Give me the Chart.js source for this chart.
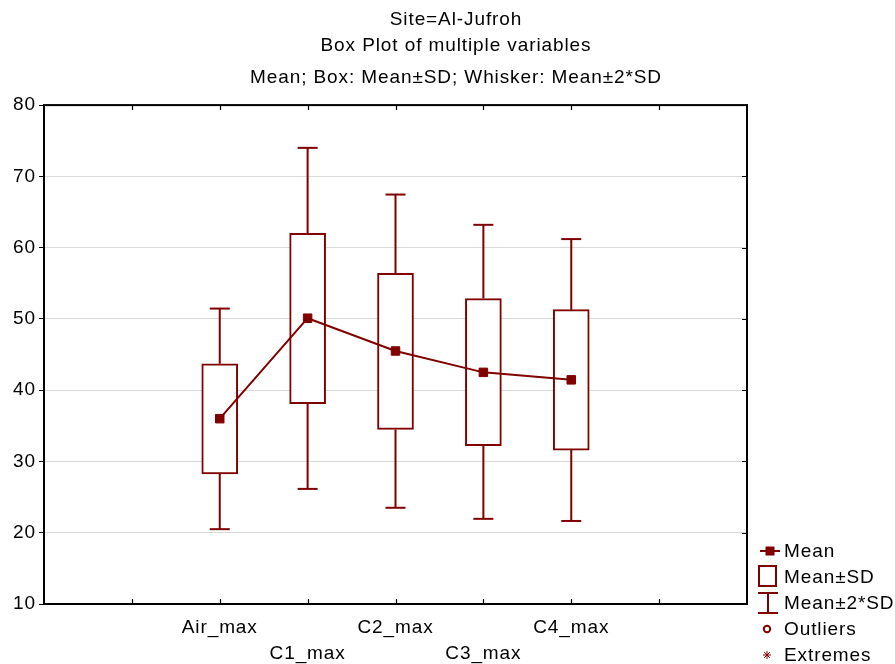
<!DOCTYPE html>
<html><head><meta charset="utf-8">
<script src="https://cdn.jsdelivr.net/npm/chart.js@4.4.1/dist/chart.umd.min.js"></script>
<style>html,body{margin:0;padding:0;background:#fff}#wrap{width:895px;height:664px}</style>
</head><body><div id="wrap"><canvas id="c" width="895" height="664"></canvas></div>
<script>
// ---- data ----
const categories  = ['Air_max', 'C1_max', 'C2_max', 'C3_max', 'C4_max'];
const means       = [36.0, 50.1, 45.5, 42.5, 41.45];
const boxLow      = [28.25, 38.1, 34.5, 32.2, 31.6];   // Mean - SD
const boxHigh     = [43.7, 62.0, 56.4, 52.85, 51.3];   // Mean + SD
const whiskerLow  = [20.5, 26.15, 23.5, 21.95, 21.65]; // Mean - 2*SD
const whiskerHigh = [51.45, 74.0, 67.45, 63.2, 61.2];  // Mean + 2*SD
const yTicks      = [10, 20, 30, 40, 50, 60, 70, 80];
const titleLines  = ['Site=Al-Jufroh', 'Box Plot of multiple variables'];
const subtitleText = 'Mean; Box: Mean±SD; Whisker: Mean±2*SD';
const legendItems = ['Mean', 'Mean±SD', 'Mean±2*SD', 'Outliers', 'Extremes'];

const MAROON = '#800000';
const FONT = "'Liberation Sans', Arial, sans-serif";
const FS = 19;
const LS = '0.9px';
Chart.defaults.font.family = FONT;
Chart.defaults.color = '#000';

const pos = categories.map((c, i) => i + 1);

const boxData = categories.map((c, i) => ({ x: pos[i], y: [boxLow[i], boxHigh[i]] }));
const whiskerData = [];
categories.forEach((c, i) => {
  whiskerData.push({ x: pos[i], y: whiskerLow[i] }, { x: pos[i], y: boxLow[i] }, { x: pos[i], y: null });
  whiskerData.push({ x: pos[i], y: boxHigh[i] }, { x: pos[i], y: whiskerHigh[i] }, { x: pos[i], y: null });
});
const capData = [];
categories.forEach((c, i) => {
  capData.push({ x: pos[i], y: whiskerLow[i] }, { x: pos[i], y: whiskerHigh[i] });
});
const meanData = categories.map((c, i) => ({ x: pos[i], y: means[i] }));

const spacingPlugin = {
  id: 'spacing',
  beforeLayout(chart) { chart.ctx.letterSpacing = LS; },
  beforeDraw(chart) { chart.ctx.letterSpacing = LS; }
};

const framePlugin = {
  id: 'frame',
  afterDraw(chart) {
    const { ctx, chartArea: a, scales } = chart;
    ctx.save();
    ctx.strokeStyle = '#000';
    ctx.lineWidth = 1.2;
    // inward ticks
    ctx.beginPath();
    scales.x.ticks.forEach(t => {
      if (t.value <= scales.x.min || t.value >= scales.x.max) return;
      const px = Math.round(scales.x.getPixelForValue(t.value)) + 0.5;
      ctx.moveTo(px, a.bottom); ctx.lineTo(px, a.bottom - 5);
      ctx.moveTo(px, a.top); ctx.lineTo(px, a.top + 5);
    });
    scales.y.ticks.forEach(t => {
      if (t.value <= scales.y.min || t.value >= scales.y.max) return;
      const py = Math.round(scales.y.getPixelForValue(t.value)) + 0.5;
      ctx.moveTo(a.right, py); ctx.lineTo(a.right - 5, py);
    });
    ctx.stroke();
    ctx.lineWidth = 2;
    ctx.strokeRect(a.left, a.top, a.right - a.left, a.bottom - a.top);

    // legend
    const x0 = a.right + 13;
    const tx = a.right + 37;
    const ys = [a.bottom - 53, a.bottom - 27, a.bottom - 1, a.bottom + 25, a.bottom + 51];
    ctx.strokeStyle = MAROON; ctx.fillStyle = MAROON; ctx.lineWidth = 2;
    // Mean
    ctx.beginPath(); ctx.moveTo(x0, ys[0]); ctx.lineTo(x0 + 20, ys[0]); ctx.stroke();
    ctx.fillRect(x0 + 5.5, ys[0] - 4.5, 9, 9);
    // Mean±SD
    ctx.strokeRect(x0 - 1, ys[1] - 11, 17, 20);
    // Mean±2*SD
    ctx.beginPath();
    ctx.moveTo(x0 - 2, ys[2] - 10); ctx.lineTo(x0 + 18, ys[2] - 10);
    ctx.moveTo(x0 + 8, ys[2] - 10); ctx.lineTo(x0 + 8, ys[2] + 10);
    ctx.moveTo(x0 - 2, ys[2] + 10); ctx.lineTo(x0 + 18, ys[2] + 10);
    ctx.stroke();
    // Outliers
    ctx.beginPath(); ctx.arc(x0 + 7, ys[3], 3.2, 0, Math.PI * 2); ctx.stroke();
    // Extremes
    ctx.lineWidth = 1;
    ctx.beginPath();
    for (let k = 0; k < 4; k++) {
      const ang = k * Math.PI / 4;
      const dx = Math.cos(ang) * 4, dy = Math.sin(ang) * 4;
      ctx.moveTo(x0 + 7 - dx, ys[4] - dy); ctx.lineTo(x0 + 7 + dx, ys[4] + dy);
    }
    ctx.stroke();
    ctx.fillStyle = '#000';
    ctx.font = FS + 'px ' + FONT;
    ctx.letterSpacing = LS;
    ctx.textBaseline = 'middle';
    ctx.textAlign = 'left';
    legendItems.forEach((t, k) => ctx.fillText(t, tx, ys[k] + 1));
    ctx.restore();
  }
};

new Chart(document.getElementById('c'), {
  type: 'bar',
  data: {
    datasets: [
      { type: 'bar', label: 'Mean±SD', data: boxData, backgroundColor: '#fff', borderColor: MAROON,
        borderWidth: 2, borderSkipped: false, barThickness: 36, grouped: false, order: 3 },
      { type: 'line', label: 'Mean±2*SD', data: whiskerData, borderColor: MAROON, borderWidth: 2,
        pointRadius: 0, spanGaps: false, fill: false, order: 2 },
      { type: 'line', label: 'caps', data: capData, showLine: false, pointStyle: 'line', pointRadius: 10,
        pointBorderWidth: 2, pointBorderColor: MAROON, borderColor: MAROON, order: 2 },
      { type: 'line', label: 'Mean', data: meanData, borderColor: MAROON, borderWidth: 2, tension: 0,
        pointStyle: 'rect', pointRadius: 6, pointBackgroundColor: MAROON, pointBorderColor: MAROON,
        pointBorderWidth: 1, fill: false, order: 1 }
    ]
  },
  options: {
    responsive: false,
    animation: false,
    devicePixelRatio: 1,
    layout: { padding: { left: 11, right: -6, top: 0, bottom: 0 } },
    plugins: {
      legend: { display: false },
      tooltip: { enabled: false },
      title: { display: true, text: titleLines, color: '#000',
        font: { size: FS, weight: 'normal', lineHeight: 1.37 }, padding: { top: 7, bottom: 2 } },
      subtitle: { display: true, text: subtitleText, color: '#000',
        font: { size: FS, weight: 'normal', lineHeight: 1.37 }, padding: { top: 4, bottom: 14 } }
    },
    scales: {
      x: {
        type: 'linear', min: -1, max: 7, offset: false,
        grid: { display: false, offset: false },
        border: { display: false },
        afterFit(s) { s.height = 60; },
        ticks: {
          stepSize: 1, autoSkip: false, maxRotation: 0, minRotation: 0, padding: 3,
          font: { size: FS, lineHeight: 1.37 }, color: '#000',
          callback(v) {
            const i = pos.indexOf(v);
            if (i < 0) return '';
            return i % 2 === 0 ? categories[i] : ['', categories[i]];
          }
        }
      },
      y: {
        type: 'linear', min: yTicks[0], max: yTicks[yTicks.length - 1],
        afterBuildTicks(s) { s.ticks = yTicks.map(v => ({ value: v })); },
        afterFit(s) { s.width = 33; },
        grid: { color: '#d9d9d9', tickColor: '#000', tickLength: 5, lineWidth: 1 },
        border: { display: false },
        ticks: { padding: 3, font: { size: FS }, color: '#000' }
      },
      y2: {
        type: 'linear', position: 'right', min: 10, max: 80, display: true,
        grid: { display: false }, border: { display: false },
        ticks: { display: false },
        afterFit(s) { s.width = 154; }
      }
    }
  },
  plugins: [spacingPlugin, framePlugin]
});
</script>
</body></html>
